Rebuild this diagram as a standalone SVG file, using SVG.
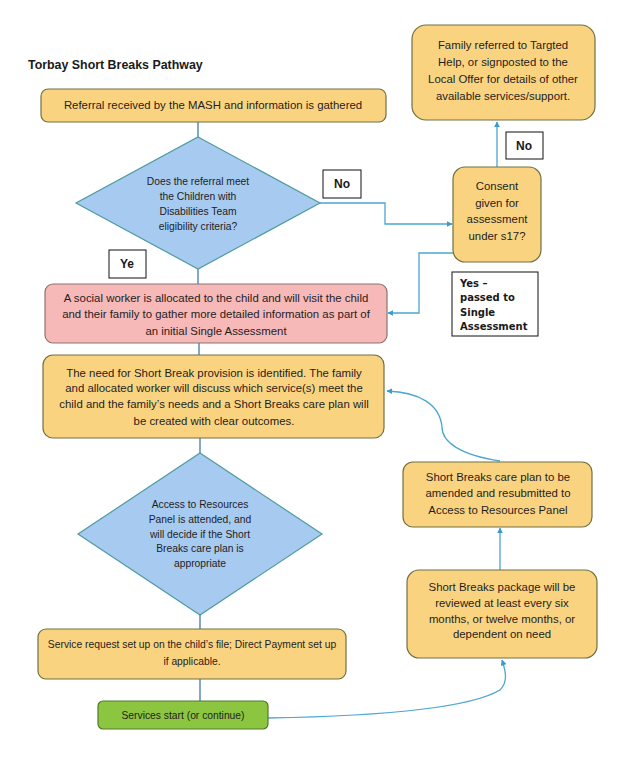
<svg xmlns="http://www.w3.org/2000/svg" width="642" height="758" viewBox="0 0 642 758">
<defs>
<style>
.t{font-family:"Liberation Sans",Arial,sans-serif;font-size:11.4px;fill:#1e1e1e;text-anchor:middle}
.d{font-size:10.3px}
.s{font-size:10.3px}
.title{font-family:"Liberation Sans",Arial,sans-serif;font-size:12.4px;font-weight:bold;fill:#1a1a1a}
.lab{font-family:"Liberation Sans",Arial,sans-serif;font-size:12px;font-weight:bold;fill:#1a1a1a;text-anchor:middle}
.yes{font-family:"DejaVu Sans",Verdana,sans-serif;font-size:10px;font-weight:bold;fill:#1a1a1a}
.or{fill:#fad381;stroke:#6e7242;stroke-width:1.2}
.pk{fill:#f7b8b8;stroke:#8a7470;stroke-width:1.2}
.dm{fill:#a7caf1;stroke:#4d9ba0;stroke-width:1.2}
.gr{fill:#8cc640;stroke:#4f7a2c;stroke-width:1.2}
.lb{fill:#fff;stroke:#111;stroke-width:1}
.c{fill:none;stroke:#4aa6d2;stroke-width:1.3}
.v{fill:none;stroke:#2f6fa6;stroke-width:1.2}
</style>
<marker id="ah" viewBox="0 0 10 10" refX="9" refY="5" markerWidth="6" markerHeight="6" orient="auto-start-reverse" markerUnits="userSpaceOnUse">
<path d="M0,0 L10,5 L0,10 z" fill="#3a9bcc"/>
</marker>
</defs>
<rect width="642" height="758" fill="#fff"/>
<text class="title" x="28" y="69">Torbay Short Breaks Pathway</text>

<g id="connectors">
<line class="v" x1="198" y1="122" x2="198" y2="137"/>
<line class="v" x1="198" y1="269" x2="198" y2="284"/>
<line class="v" x1="199" y1="343" x2="199" y2="355"/>
<line class="v" x1="200" y1="438" x2="200" y2="453"/>
<line class="v" x1="200" y1="615" x2="200" y2="629"/>
<line class="v" x1="200" y1="679" x2="200" y2="701"/>
<path class="c" d="M320,203 H385 V224 H452" marker-end="url(#ah)"/>
<path class="c" d="M497,167 V122" marker-end="url(#ah)"/>
<path class="c" d="M453,253 H419 V313 H388" marker-end="url(#ah)"/>
<path class="c" d="M500,461 C460,455 442,442 442,427 C440,405 420,392 387,391" marker-end="url(#ah)"/>
<path class="c" d="M500,570 V528" marker-end="url(#ah)"/>
<path class="c" d="M268,718 C380,716 470,708 500,690 C508,682 506,672 502,660" marker-end="url(#ah)"/>
</g>

<g id="referral">
<rect class="or" x="41" y="89" width="345" height="33" rx="7"/>
<text class="t" x="213" y="109">Referral received by the MASH and information is gathered</text>
</g>

<g id="eligibility">
<polygon class="dm" points="198,137 320,203 198,269 76,203"/>
<text class="t d" x="198" y="185">Does the referral meet</text>
<text class="t d" x="198" y="200">the Children with</text>
<text class="t d" x="198" y="215">Disabilities Team</text>
<text class="t d" x="198" y="230">eligibility criteria?</text>
</g>

<g id="label-no1">
<rect class="lb" x="323" y="170" width="38" height="28"/>
<text class="lab" x="342" y="188">No</text>
</g>

<g id="label-ye">
<rect class="lb" x="109" y="250" width="37" height="28"/>
<text class="lab" x="127" y="268">Ye</text>
</g>

<g id="consent">
<rect class="or" x="453" y="167" width="88" height="95" rx="12"/>
<text class="t" x="497" y="190">Consent</text>
<text class="t" x="497" y="207">given for</text>
<text class="t" x="497" y="223">assessment</text>
<text class="t" x="497" y="240">under s17?</text>
</g>

<g id="label-no2">
<rect class="lb" x="506" y="132" width="37" height="27"/>
<text class="lab" x="524" y="150">No</text>
</g>

<g id="targeted">
<rect class="or" x="412" y="25" width="183" height="95" rx="14"/>
<text class="t" x="503" y="49">Family referred to Targted</text>
<text class="t" x="503" y="66">Help, or signposted to the</text>
<text class="t" x="503" y="83">Local Offer for details of other</text>
<text class="t" x="503" y="100">available services/support.</text>
</g>

<g id="label-yes">
<rect class="lb" x="452" y="272" width="86" height="64"/>
<text class="yes" x="460" y="287">Yes –</text>
<text class="yes" x="460" y="301">passed to</text>
<text class="yes" x="460" y="316">Single</text>
<text class="yes" x="460" y="330">Assessment</text>
</g>

<g id="social-worker">
<rect class="pk" x="45" y="284" width="342" height="59" rx="8"/>
<text class="t" x="216" y="302">A social worker is allocated to the child and will visit the child</text>
<text class="t" x="216" y="318">and their family to gather more detailed information as part of</text>
<text class="t" x="216" y="335">an initial Single Assessment</text>
</g>

<g id="need">
<rect class="or" x="43" y="355" width="341" height="83" rx="10"/>
<text class="t" x="214" y="377">The need for Short Break provision is identified. The family</text>
<text class="t" x="214" y="392">and allocated worker will discuss which service(s) meet the</text>
<text class="t" x="214" y="408">child and the family’s needs and a Short Breaks care plan will</text>
<text class="t" x="214" y="425">be created with clear outcomes.</text>
</g>

<g id="panel">
<polygon class="dm" points="200,453 322,534 200,615 78,534"/>
<text class="t d" x="200" y="508">Access to Resources</text>
<text class="t d" x="200" y="523">Panel is attended, and</text>
<text class="t d" x="200" y="538">will decide if the Short</text>
<text class="t d" x="200" y="552">Breaks care plan is</text>
<text class="t d" x="200" y="567">appropriate</text>
</g>

<g id="amend">
<rect class="or" x="403" y="462" width="189" height="65" rx="10"/>
<text class="t" x="498" y="481">Short Breaks care plan to be</text>
<text class="t" x="498" y="497">amended and resubmitted to</text>
<text class="t" x="498" y="514">Access to Resources Panel</text>
</g>

<g id="review">
<rect class="or" x="407" y="570" width="190" height="88" rx="12"/>
<text class="t" x="502" y="591">Short Breaks package will be</text>
<text class="t" x="502" y="607">reviewed at least every six</text>
<text class="t" x="502" y="623">months, or twelve months, or</text>
<text class="t" x="502" y="638">dependent on need</text>
</g>

<g id="service-request">
<rect class="or" x="38" y="629" width="308" height="50" rx="8"/>
<text class="t s" x="192" y="648">Service request set up on the child’s file; Direct Payment set up</text>
<text class="t s" x="192" y="665">if applicable.</text>
</g>

<g id="services-start">
<rect class="gr" x="98" y="701" width="170" height="28" rx="5"/>
<text class="t s" x="183" y="719">Services start (or continue)</text>
</g>
</svg>
